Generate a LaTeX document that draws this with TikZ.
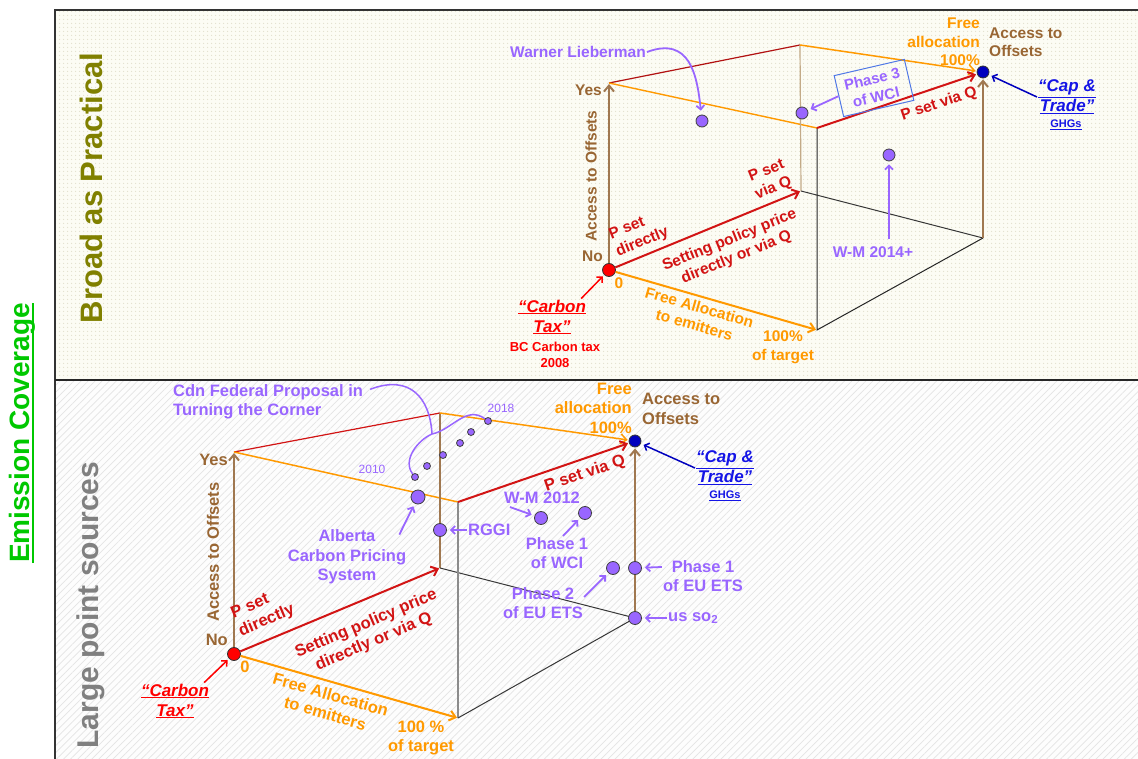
\documentclass[tikz,border=0pt]{standalone}
\usepackage{fontspec}
\setmainfont{Liberation Sans}
\usetikzlibrary{arrows.meta,patterns.meta}

\definecolor{cpurple}{RGB}{153,102,255}
\definecolor{cred}{RGB}{210,20,20}
\definecolor{cbright}{RGB}{255,0,0}
\definecolor{corange}{RGB}{255,153,0}
\definecolor{cbrown}{RGB}{153,102,51}
\definecolor{caxis}{RGB}{160,120,80}
\definecolor{ctan}{RGB}{195,170,135}
\definecolor{cblue}{RGB}{0,0,190}
\definecolor{ctblue}{RGB}{20,20,230}
\definecolor{cgreen}{RGB}{0,200,0}
\definecolor{colive}{RGB}{128,128,0}
\definecolor{cgray}{RGB}{128,128,128}
\definecolor{cedge}{RGB}{55,55,55}
\definecolor{cbox}{RGB}{80,120,230}
\definecolor{topbg}{RGB}{252,252,244}
\definecolor{topdot}{RGB}{226,224,205}
\definecolor{botbg}{RGB}{253,253,253}
\definecolor{bothatch}{RGB}{228,228,228}

\newcommand{\lblfont}{\bfseries\fontsize{15.5}{18.5}\selectfont}
\newcommand{\lblfontb}{\bfseries\fontsize{16.5}{19.5}\selectfont}
\newcommand{\quotefont}{\bfseries\itshape\fontsize{17}{20}\selectfont}

\begin{document}
\begin{tikzpicture}[x=1pt,y=-1pt,
  lbl/.style={font=\lblfont, align=center, inner sep=1pt},
  plbl/.style={lbl, text=cpurple},
  olbl/.style={lbl, text=corange},
  rlbl/.style={lbl, text=cred},
  blbl/.style={lbl, text=cbrown},
  qred/.style={font=\quotefont, text=cbright, align=center, inner sep=1pt},
  qblue/.style={font=\quotefont, text=ctblue, align=center, inner sep=1pt},
  ghg/.style={font=\bfseries\fontsize{11}{13}\selectfont, text=ctblue, inner sep=1pt},
  barb/.style={-{Straight Barb[length=6pt,width=10pt]}},
  axisln/.style={barb, line width=2pt, shorten >=1pt},
  edgeln/.style={line width=1pt, draw=cedge},
  pdot/.style={circle, fill=cpurple, draw=black!75, line width=0.8pt, minimum size=12pt, inner sep=0pt},
  sdot/.style={pdot, minimum size=7pt},
  reddot/.style={circle, fill=cbright, draw=black!80, line width=0.8pt, minimum size=13pt, inner sep=0pt},
  bluedot/.style={circle, fill=cblue, draw=black!80, line width=0.8pt, minimum size=12pt, inner sep=0pt},
  parr/.style={draw=cpurple, line width=1.8pt, -{Straight Barb[length=4pt,width=8pt]}, shorten >=3pt},
  pline/.style={draw=cpurple, line width=1.5pt},
  redarr/.style={draw=cbright, line width=1.5pt, -{Straight Barb[length=4pt,width=8pt]}, shorten >=2pt},
  bluearr/.style={draw=cblue, line width=1.5pt, -{Straight Barb[length=4pt,width=8pt]}, shorten >=3pt},
  sidetitle/.style={rotate=90, inner sep=0pt}
]
\useasboundingbox (0,0) rectangle (1138,759);

% ---------- panels ----------
\fill[white] (0,0) rectangle (1138,759);
\fill[topbg] (55,10) rectangle (1138,380);
\fill[pattern={Dots[distance=4pt,radius=0.8pt]}, pattern color=topdot] (55,10) rectangle (1138,380);
\fill[botbg] (55,380) rectangle (1138,759);
\fill[pattern={Lines[angle=45,distance=5pt,line width=0.7pt]}, pattern color=bothatch] (55,380) rectangle (1138,759);
\draw[line width=1.3pt, black!80] (1138,10) -- (55,10) -- (55,759);
\draw[line width=1.3pt, black!85] (55,380) -- (1138,380);

% ---------- side titles ----------
\node[sidetitle, text=cgreen, font=\bfseries\fontsize{28}{31}\selectfont] (ec) at (22,433) {Emission Coverage};
\draw[cgreen, line width=1.6pt] ([xshift=4pt]ec.base west) -- ([xshift=4pt]ec.base east);
\node[sidetitle, text=colive, font=\bfseries\fontsize{31}{34}\selectfont] (bap) at (91,188) {Broad as Practical};
\node[sidetitle, text=cgray, font=\bfseries\fontsize{30}{33}\selectfont] (lps) at (91,605) {Large point sources};

% =====================================================
% upper cube
% =====================================================
\coordinate (tO) at (609,270);
\coordinate (tZ) at (609,83);
\coordinate (tY) at (801,191);
\coordinate (tYZ) at (800,45);
\coordinate (tX) at (817,330);
\coordinate (tXZ) at (817,128);
\coordinate (tXY) at (983,238);
\coordinate (tXYZ) at (983,72);

\draw[line width=1.2pt, draw=cred!85!black] (tZ) -- (tYZ);
\draw[line width=1.4pt, draw=corange] (tZ) -- (tXZ);
\draw[line width=1.2pt, draw=ctan] (tYZ) -- (tY);
\draw[edgeln] (tY) -- (tXY);
\draw[edgeln, draw=black!85] (tXZ) -- (tX) -- (tXY);

\node[reddot] (tOd) at (tO) {};
\node[bluedot] (tCd) at (tXYZ) {};

\draw[axisln, draw=caxis] (tOd) -- (tZ);
\draw[axisln, draw=cred] (tOd) -- (tY);
\draw[axisln, draw=corange] (tOd) -- (tX);
\draw[axisln, draw=corange, line width=1.5pt] (tYZ) -- (tCd);
\draw[axisln, draw=cred] (tXZ) -- (tCd);
\draw[axisln, draw=caxis] (tXY) -- (tCd);

% axis labels
\node[blbl, anchor=east] (tyes) at (603,90) {Yes};
\node[blbl, anchor=east] (tno) at (604,256) {No};
\node[blbl, rotate=90] (tacc) at (591,176) {Access to Offsets};
\node[olbl] (tzero) at (619,283) {0};
\node[rlbl, rotate=22, align=left] (tpd) at (639,234) {P set\\directly};
\node[rlbl, rotate=22] (tsp) at (733,249) {Setting policy price\\directly or via Q};
\node[rlbl, rotate=22] (tpq) at (770,180) {P set\\via Q};
\node[rlbl, rotate=18.6] (tpq2) at (939,104) {P set via Q};
\node[olbl, rotate=-16] (tfa) at (697,316) {Free Allocation\\to emitters};
\node[olbl] (ttg) at (783,347) {100\%\\of target};
\node[olbl, anchor=east, align=right] (tfr) at (981,42) {Free\\allocation\\100\%};
\node[blbl, anchor=west, align=left] (tao) at (988,42) {Access to\\Offsets};

% end members
\node[qred] (tct) at (552,317) {\underline{“Carbon}\\\underline{Tax”}};
\node[font=\bfseries\fontsize{13}{16}\selectfont, text=cbright, align=center, inner sep=1pt] (tbc) at (555,355) {BC Carbon tax\\2008};
\draw[redarr] ([xshift=-6pt]tct.north east) -- (tOd);
\node[qblue] (tcap) at (1067,97) {\underline{“Cap \&}\\\underline{Trade”}};
\node[ghg] (tghg) at (1066,125) {\underline{GHGs}};
\draw[bluearr] (tcap.west) -- (tCd);

% proposals
\node[pdot] (tWL) at (702,121) {};
\node[pdot] (tP3) at (802,113) {};
\node[pdot] (tWM) at (889,155) {};
\node[plbl] (wl) at (578,52) {Warner Lieberman};
\draw[parr, shorten >=4pt] (wl.east) .. controls (690,36) and (697,75) .. (tWL);
\node[plbl, draw=cbox, line width=1pt, rotate=13, inner sep=3pt,
      minimum width=72pt, minimum height=42pt,
      font=\bfseries\fontsize{15}{18}\selectfont] (ph3) at (874,88) {Phase 3\\of WCI};
\draw[parr] (ph3.west) -- (tP3);
\node[plbl] (wm14) at (873,252) {W-M 2014+};
\draw[parr, shorten <=6pt] (wm14.north -| tWM) -- (tWM);

% =====================================================
% lower cube
% =====================================================
\begin{scope}[lbl/.style={font=\lblfontb, align=center, inner sep=1pt},
              pdot/.append style={minimum size=13pt}]
\coordinate (bO) at (234,654);
\coordinate (bZ) at (234,452);
\coordinate (bYZ) at (440,413);
\coordinate (bY) at (440,568);
\coordinate (bX) at (458,718);
\coordinate (bXZ) at (458,502);
\coordinate (bXY) at (635,618);
\coordinate (bXYZ) at (635,441);

\draw[line width=1.2pt, draw=cred] (bZ) -- (bYZ);
\draw[line width=1.5pt, draw=corange] (bZ) -- (bXZ);
\draw[line width=1.5pt, draw=caxis] (bYZ) -- (bY);
\draw[edgeln] (bY) -- (bXY);
\draw[line width=1.2pt, draw=black!45] (bXZ) -- (bX);
\draw[edgeln] (bX) -- (bXY);

\node[reddot] (bOd) at (bO) {};
\node[bluedot] (bCd) at (bXYZ) {};

\draw[axisln, draw=caxis] (bOd) -- (bZ);
\draw[axisln, draw=cred] (bOd) -- (bY);
\draw[axisln, draw=corange] (bOd) -- (bX);
\draw[axisln, draw=corange, line width=1.5pt] (bYZ) -- (bCd);
\draw[axisln, draw=cred] (bXZ) -- (bCd);
\draw[axisln, draw=caxis] (bXY) -- (bCd);

% axis labels
\node[blbl, anchor=east] (byes) at (229,460) {Yes};
\node[blbl, anchor=east] (bno) at (229,640) {No};
\node[blbl, rotate=90] (bacc) at (213,552) {Access to Offsets};
\node[olbl] (bzero) at (245,667) {0};
\node[rlbl, rotate=23, align=left] (bpd) at (263,612) {P set\\directly};
\node[rlbl, rotate=23] (bsp) at (370,633) {Setting policy price\\directly or via Q};
\node[olbl, rotate=-16] (bfa) at (328,704) {Free Allocation\\to emitters};
\node[olbl] (btg) at (421,738) {100 \%\\of target};
\node[olbl, anchor=east, align=right] (bfr) at (633,408) {Free\\allocation\\100\%};
\node[blbl, anchor=west, align=left] (bao) at (641,409) {Access to\\Offsets};
\node[rlbl, rotate=19] (bpq) at (585,474) {P set via Q};

% end members
\node[qred] (bct) at (175,701) {\underline{“Carbon}\\\underline{Tax”}};
\draw[redarr] ([xshift=-6pt]bct.north east) -- (bOd);
\node[qblue] (bcap) at (725,468) {\underline{“Cap \&}\\\underline{Trade”}};
\node[ghg] (bghg) at (725,496) {\underline{GHGs}};
\draw[bluearr] (bcap.west) -- (bCd);

% proposals and programmes
\node[pdot, minimum size=14pt] (bAlb) at (418,497) {};
\node[pdot] (bRGGI) at (440,530) {};
\node[pdot] (bWM12) at (541,518) {};
\node[pdot] (bPh1W) at (585,513) {};
\node[pdot] (bPh2) at (613,568) {};
\node[pdot] (bPh1E) at (635,568) {};
\node[pdot] (bUS) at (635,618) {};

\node[sdot] (s1) at (415,477) {};
\node[sdot] (s2) at (427,466) {};
\node[sdot] (s3) at (443,455) {};
\node[sdot] (s4) at (460,443) {};
\node[sdot] (s5) at (471,432) {};
\node[sdot] (s6) at (488,421) {};
\node[text=cpurple, font=\fontsize{12}{14}\selectfont, inner sep=1pt] (y10) at (372,469) {2010};
\node[text=cpurple, font=\fontsize{12}{14}\selectfont, inner sep=1pt] (y18) at (501,408) {2018};

\node[plbl, align=left, anchor=west] (cdn) at (172,402) {Cdn Federal Proposal in\\Turning the Corner};
\coordinate (bJ) at (432,434);
\draw[pline] ([xshift=6pt,yshift=-6pt]cdn.north east) .. controls (410,374) and (430,398) .. (bJ);
\draw[pline] (bJ) .. controls (418,440) and (402,460) .. (s1);
\draw[pline] (bJ) .. controls (452,430) and (466,405) .. (s6);

\node[plbl] (alb) at (347,557) {Alberta\\Carbon Pricing\\System};
\draw[parr] ([xshift=-8pt,yshift=-6pt]alb.north east) -- (bAlb);
\node[plbl, anchor=west] (rggi) at (467,530) {RGGI};
\draw[parr] (rggi.west) -- (bRGGI);
\node[plbl] (wm12) at (542,498) {W-M 2012};
\draw[parr] ([xshift=7pt,yshift=-2pt]wm12.south west) -- (bWM12);
\node[plbl] (ph1w) at (557,553) {Phase 1\\of WCI};
\draw[parr] ([xshift=6pt]ph1w.north) -- (bPh1W);
\node[plbl] (ph2) at (543,603) {Phase 2\\of EU ETS};
\draw[parr] ([yshift=6pt]ph2.east) -- (bPh2);
\node[plbl] (ph1e) at (703,576) {Phase 1\\of EU ETS};
\draw[parr] ([yshift=9pt]ph1e.west) -- (bPh1E);
\node[plbl, anchor=west] (us) at (667,618) {us so\textsubscript{2}};
\draw[parr] (us.west) -- (bUS);
\end{scope}
\end{tikzpicture}
\end{document}
